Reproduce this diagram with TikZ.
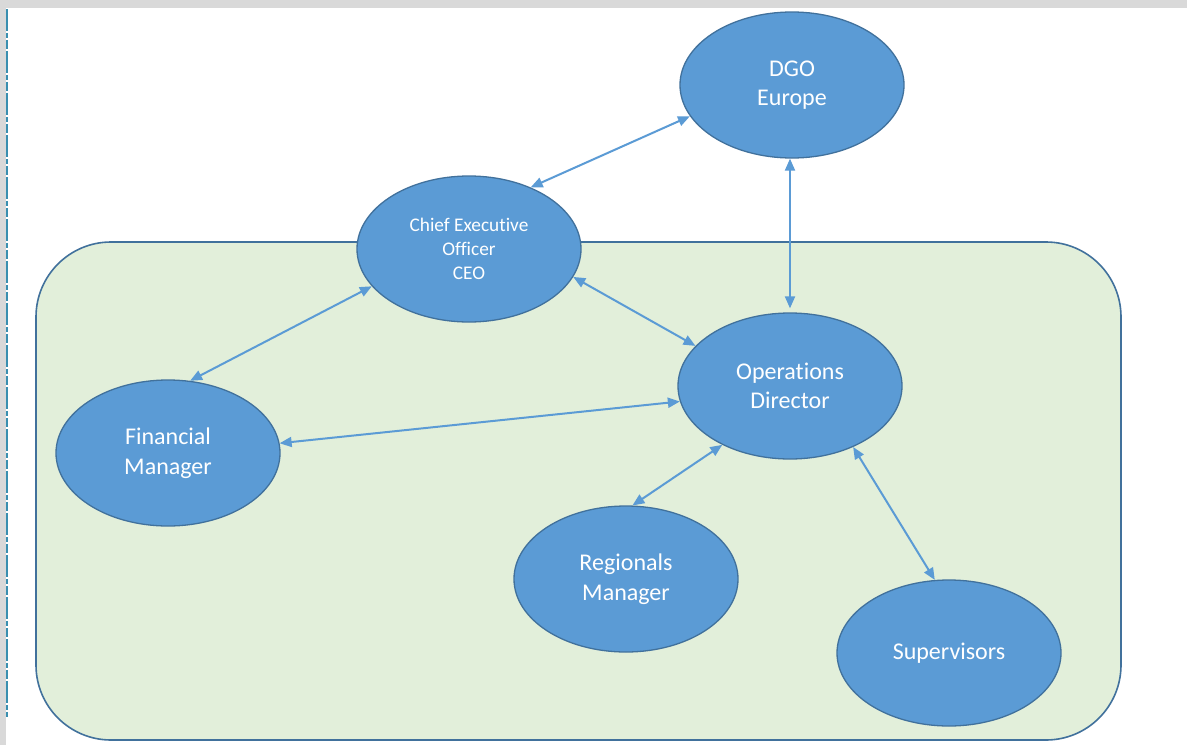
\documentclass[tikz,border=0pt]{standalone}
\usepackage{fontspec}
\setmainfont{Carlito}[Ligatures=NoCommon]
\usetikzlibrary{shapes.geometric,arrows.meta}
\definecolor{nodefill}{HTML}{5B9BD5}
\definecolor{nodeline}{HTML}{41719C}
\definecolor{panelfill}{HTML}{E2EFDA}
\definecolor{panelline}{HTML}{41719C}
\definecolor{barcolor}{HTML}{D9D9D9}
\definecolor{dashcol}{HTML}{3A8FB0}
\tikzset{
  ellnode/.style={ellipse, fill=nodefill, draw=nodeline, line width=1.3pt,
    minimum width=224pt, minimum height=146pt, inner sep=0pt, align=center,
    text=white, font=\fontsize{24}{29.5}\selectfont},
  smalltext/.style={font=\fontsize{19.3}{24}\selectfont},
  conn/.style={draw=nodefill, line width=2pt,
    {Triangle[length=12pt,width=10pt]}-{Triangle[length=12pt,width=10pt]}},
  panel/.style={fill=panelfill, draw=panelline, line width=1.6pt, rounded corners=75pt}
}
\begin{document}
\begin{tikzpicture}[x=1pt,y=-1pt]
\useasboundingbox (0,0) rectangle (1187,745);
\fill[white] (0,0) rectangle (1187,745);
\fill[barcolor] (0,0) rectangle (1187,8);
\fill[barcolor] (0,0) rectangle (6,745);
\draw[dashcol, line width=1.4pt, dash pattern=on 22pt off 2pt on 5pt off 2pt on 9pt off 2pt] (6.8,9) -- (6.8,717);
\draw[panel] (36,242) rectangle (1121,740);
\node[ellnode] (dgo) at (792,85) {DGO\\Europe};
\node[ellnode, smalltext] (ceo) at (469,249) {Chief Executive\\Officer\\CEO};
\node[ellnode] (ops) at (790,386) {Operations\\Director};
\node[ellnode] (fin) at (168,453) {Financial\\Manager};
\node[ellnode] (reg) at (626,579) {Regionals\\Manager};
\node[ellnode] (sup) at (949,653) {Supervisors};
\draw[conn] (dgo.197) -- (ceo.45);
\draw[conn] (ops.north |- dgo.south) -- ([yshift=4pt]ops.north);
\draw[conn] (ceo.345) -- (ops.157);
\draw[conn] (ceo.201) -- (fin.73);
\draw[conn] (fin.5) -- (ops.188);
\draw[conn] (ops.221) -- (reg.85);
\draw[conn] (ops.316) -- (sup.101);
\end{tikzpicture}
\end{document}
